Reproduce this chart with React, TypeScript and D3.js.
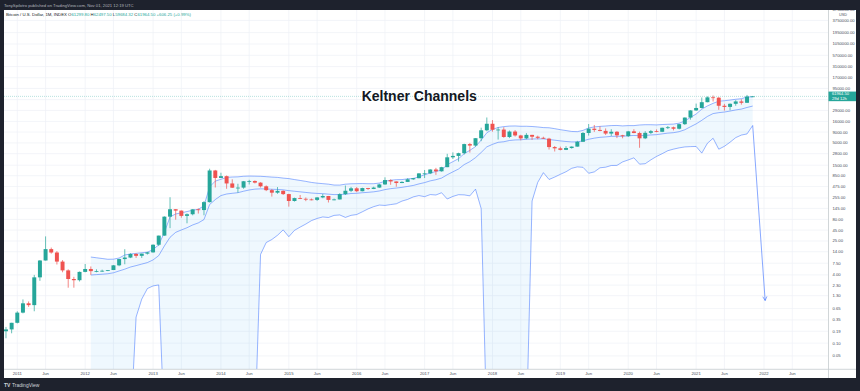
import React from 'react';
import * as d3 from 'd3';

// Monthly BTC/USD candles, first candle = July 2010
const FIRST_MONTH_OFFSET = -6; // July 2010 relative to Jan 2011
const opens = [0.05, 0.07, 0.06, 0.06, 0.19, 0.21,
  0.30, 0.52, 0.86, 0.78, 3.5, 8.7, 16.1, 13.4, 8.2, 5.1, 3.2, 3.0,
  4.7, 5.5, 4.9, 4.9, 5.0, 5.2, 6.7, 9.4, 10.2, 12.4, 11.2, 12.6,
  13.5, 20.4, 33.4, 93, 139, 129, 97, 106, 138, 133, 204, 1129,
  754, 830, 560, 445, 447, 630, 640, 585, 480, 390, 340, 375,
  315, 217, 254, 244, 236, 230, 263, 284, 230, 236, 314, 377,
  430, 368, 436, 416, 448, 531, 673, 624, 573, 608, 700, 744,
  964, 965, 1190, 1080, 1350, 2300, 2480, 2875, 4700, 4340, 6460, 9900,
  14100, 10200, 10300, 6900, 9250, 7500, 6400, 7730, 7000, 6600, 6300, 4000,
  3740, 3440, 3800, 4100, 5330, 8560, 10800, 10100, 9600, 8300, 9150, 7560,
  7200, 9350, 8540, 6420, 8630, 9450, 9140, 11350, 11650, 10780, 13800, 19700,
  28990, 33100, 45240, 58800, 57700, 37300, 35040, 41460, 47100, 43800, 61299.8];
const highs = [0.09, 0.07, 0.07, 0.20, 0.24, 0.30,
  0.56, 1.06, 0.95, 4.0, 8.9, 32, 17.5, 14.5, 8.9, 5.4, 3.6, 4.8,
  7.2, 6.3, 5.4, 5.3, 5.2, 6.8, 9.5, 16.0, 12.9, 12.8, 12.6, 13.9,
  20.8, 33.4, 95, 266, 140, 130, 111, 140, 145, 215, 1242, 1165,
  1000, 860, 700, 550, 640, 680, 660, 600, 505, 415, 460, 385,
  320, 260, 300, 262, 248, 267, 317, 285, 247, 330, 500, 465,
  460, 445, 440, 470, 550, 780, 700, 625, 630, 740, 755, 975,
  1160, 1210, 1300, 1375, 2780, 3000, 2950, 4800, 5000, 6470, 11400, 19800,
  17200, 11800, 11700, 9800, 9990, 7760, 8500, 7750, 7400, 7000, 6600, 4240,
  4100, 4200, 4150, 5600, 9000, 13900, 13200, 12300, 10950, 10500, 9500, 7750,
  9600, 10500, 9200, 9450, 10080, 10400, 11450, 12480, 12100, 14100, 19900, 29300,
  41950, 58350, 61800, 64900, 59500, 41300, 42400, 50500, 52900, 67000, 62497.5];
const lows = [0.05, 0.06, 0.06, 0.06, 0.13, 0.17,
  0.29, 0.50, 0.71, 0.56, 2.9, 8.7, 12.6, 7.0, 4.6, 2.0, 2.0, 2.8,
  4.6, 4.0, 4.6, 4.7, 4.9, 5.2, 6.4, 7.1, 9.9, 10.0, 10.0, 12.0,
  13.3, 19.0, 33.0, 50, 79, 88, 65, 100, 110, 100, 200, 450,
  750, 420, 440, 340, 420, 530, 560, 450, 370, 275, 320, 300,
  160, 210, 240, 215, 225, 218, 252, 200, 225, 236, 300, 350,
  350, 365, 395, 412, 440, 520, 520, 470, 570, 605, 680, 740,
  750, 930, 890, 1060, 1350, 2100, 1830, 2670, 2970, 4120, 5500, 9400,
  9200, 6000, 6600, 6500, 7050, 5780, 6100, 5880, 6100, 6200, 3500, 3150,
  3350, 3400, 3670, 4080, 5330, 7450, 9100, 9400, 7700, 7300, 6500, 6430,
  6900, 8450, 3850, 6150, 8100, 8900, 8990, 10600, 9850, 10400, 13200, 17600,
  28130, 32300, 45000, 47000, 30000, 28800, 29300, 37300, 39600, 43300, 59684.32];
const closes = [0.07, 0.06, 0.06, 0.19, 0.21, 0.30,
  0.52, 0.86, 0.78, 3.5, 8.7, 16.1, 13.4, 8.2, 5.1, 3.2, 3.0, 4.7,
  5.5, 4.9, 4.9, 5.0, 5.2, 6.7, 9.4, 10.2, 12.4, 11.2, 12.6, 13.5,
  20.4, 33.4, 93, 139, 129, 97, 106, 138, 133, 204, 1129, 754,
  830, 560, 445, 447, 630, 640, 585, 480, 390, 340, 375, 315,
  217, 254, 244, 236, 230, 263, 284, 230, 236, 314, 377, 430,
  368, 436, 416, 448, 531, 673, 624, 573, 608, 700, 744, 964,
  965, 1190, 1080, 1350, 2300, 2480, 2875, 4700, 4340, 6460, 9900, 14100,
  10200, 10300, 6900, 9250, 7500, 6400, 7730, 7000, 6600, 6300, 4000, 3740,
  3440, 3800, 4100, 5330, 8560, 10800, 10100, 9600, 8300, 9150, 7560, 7200,
  9350, 8540, 6420, 8630, 9450, 9140, 11350, 11650, 10780, 13800, 19700, 28990,
  33100, 45240, 58800, 57700, 37300, 35040, 41460, 47100, 43800, 61358.25, 61964.5];

// Keltner Channels settings (TradingView defaults)
const kcLength = 20;
const kcMult = 2;
const kcAtrLength = 10;

// Price axis ticks
const priceTicks = [6750000, 3750000, 1950000, 1050000, 570000, 310000, 170000, 95000, 52000, 29000, 16000,
  9000, 5000, 2800, 1500, 850, 475, 255, 145, 80, 45, 25, 14, 7.5, 4, 2.3, 1.3, 0.65, 0.35, 0.19, 0.1, 0.05];
const hiddenPriceLabels = [52000];

// Time axis ticks (month index from Jan 2011)
const timeTickMonths = [0, 5, 12, 17, 24, 29, 36, 41, 48, 53, 60, 65, 72, 77, 84, 89, 96, 101, 108, 113, 120, 125, 132, 137];
const timeTickLabels = ['2011', 'Jun', '2012', 'Jun', '2013', 'Jun', '2014', 'Jun', '2015', 'Jun', '2016', 'Jun',
  '2017', 'Jun', '2018', 'Jun', '2019', 'Jun', '2020', 'Jun', '2021', 'Jun', '2022', 'Jun'];

// Author's arrow annotation end point (month index, price)
const arrowEnd = [132.2, 1.0];

const titleText = 'Keltner Channels';
const symbolText = 'Bitcoin / U.S. Dollar, 1M, INDEX';
const publishText = 'TonySpilotro published on TradingView.com, Nov 01, 2021 12:19 UTC';
const countdownText = '29d 12h';

const UP = '#26a69a';
const DOWN = '#ef5350';
const KC = '#2962ff';
const FONT = "'Liberation Sans', Arial, sans-serif";

function computeKC() {
  const n = closes.length;
  const ema: (number | null)[] = new Array(n).fill(null);
  const alpha = 2 / (kcLength + 1);
  let s = 0;
  for (let k = 0; k < kcLength; k++) s += closes[k];
  ema[kcLength - 1] = s / kcLength;
  for (let k = kcLength; k < n; k++) ema[k] = alpha * closes[k] + (1 - alpha) * (ema[k - 1] as number);
  const tr = closes.map((_, k) => k === 0 ? highs[k] - lows[k] :
    Math.max(highs[k] - lows[k], Math.abs(highs[k] - closes[k - 1]), Math.abs(lows[k] - closes[k - 1])));
  const atr: (number | null)[] = new Array(n).fill(null);
  let t = 0;
  for (let k = 0; k < kcAtrLength; k++) t += tr[k];
  atr[kcAtrLength - 1] = t / kcAtrLength;
  for (let k = kcAtrLength; k < n; k++) atr[k] = ((atr[k - 1] as number) * (kcAtrLength - 1) + tr[k]) / kcAtrLength;
  const rows = [];
  for (let k = 0; k < n; k++) {
    if (ema[k] == null || atr[k] == null) continue;
    const m = ema[k] as number, a = atr[k] as number;
    rows.push({ i: k + FIRST_MONTH_OFFSET, basis: m, upper: m + kcMult * a, lower: m - kcMult * a });
  }
  return rows;
}

function fmt(v: number) { return v.toFixed(2); }

export default function App() {
  const W = 860, H = 391;
  const left = 4, right = 828.5, top = 10, bottom = 369;
  const x = d3.scaleLinear().domain([-2.35, 143.4]).range([left, right]);
  const y = d3.scaleLog().domain([0.0247, 6.6e6]).range([bottom, top]);
  const step = x(1) - x(0);
  const bodyW = step * 0.7;
  const kc = computeKC();
  const clampLow = (v: number) => Math.max(v, 1e-3);

  const lineU = d3.line<any>().x(d => x(d.i)).y(d => y(d.upper))(kc) || '';
  const lineM = d3.line<any>().x(d => x(d.i)).y(d => y(d.basis))(kc) || '';
  const lineL = d3.line<any>().x(d => x(d.i)).y(d => y(clampLow(d.lower)))(kc) || '';
  const area = d3.area<any>().x(d => x(d.i)).y0(d => y(d.upper)).y1(d => y(clampLow(d.lower)))(kc) || '';

  const last = kc[kc.length - 1];
  const ax0 = x(last.i), ay0 = y(clampLow(last.lower));
  const ax1 = x(arrowEnd[0]), ay1 = y(arrowEnd[1]);
  const ang = Math.atan2(ay1 - ay0, ax1 - ax0);
  const hl = 4.5, ha = Math.PI / 6.5;
  const head = `M${ax1 - hl * Math.cos(ang - ha)},${ay1 - hl * Math.sin(ang - ha)}L${ax1},${ay1}L${ax1 - hl * Math.cos(ang + ha)},${ay1 - hl * Math.sin(ang + ha)}`;

  const n = closes.length;
  const lastClose = closes[n - 1];
  const chg = closes[n - 1] - closes[n - 2];
  const chgPct = chg / closes[n - 2] * 100;
  const yLast = y(lastClose);

  return (
    <div style={{ position: 'absolute', left: 0, top: 0 }}>
      <svg width={W} height={H} style={{ display: 'block' }} fontFamily={FONT}>
        <defs>
          <clipPath id="plot"><rect x={left} y={top} width={right - left} height={bottom - top} /></clipPath>
        </defs>
        <rect x={0} y={0} width={W} height={H} fill="#1e222d" />
        <rect x={left} y={top} width={856 - left} height={378 - top} fill="#ffffff" />
        <g clipPath="url(#plot)">
          {priceTicks.map(v => (
            <line key={'g' + v} x1={left} x2={right} y1={y(v)} y2={y(v)} stroke="#eef1f6" strokeWidth={0.7} />
          ))}
          {timeTickMonths.map(m => (
            <line key={'v' + m} x1={x(m)} x2={x(m)} y1={top} y2={bottom} stroke="#eef1f6" strokeWidth={0.7} />
          ))}
          <path d={area} fill="rgba(33,150,243,0.07)" />
          <path d={lineU} fill="none" stroke={KC} strokeOpacity={0.6} strokeWidth={0.8} />
          <path d={lineM} fill="none" stroke={KC} strokeOpacity={0.6} strokeWidth={0.8} />
          <path d={lineL} fill="none" stroke={KC} strokeOpacity={0.6} strokeWidth={0.8} />
          {closes.map((c, k) => {
            const i = k + FIRST_MONTH_OFFSET;
            const o = opens[k];
            const col = c >= o ? UP : DOWN;
            const yt = y(Math.max(o, c)), yb = y(Math.min(o, c));
            return (
              <g key={'c' + k}>
                <line x1={x(i)} x2={x(i)} y1={y(highs[k])} y2={y(lows[k])} stroke={col} strokeWidth={0.7} />
                <rect x={x(i) - bodyW / 2} y={yt} width={bodyW} height={Math.max(0.8, yb - yt)} fill={col} />
              </g>
            );
          })}
          <line x1={left} x2={right} y1={yLast} y2={yLast} stroke={UP} strokeOpacity={0.55} strokeWidth={0.6} strokeDasharray="1,1" />
          <path d={`M${ax0},${ay0}L${ax1},${ay1}`} fill="none" stroke={KC} strokeOpacity={0.7} strokeWidth={0.8} />
          <path d={head} fill="none" stroke={KC} strokeOpacity={0.7} strokeWidth={0.8} />
        </g>
        <text x={(left + right) / 2 + 3} y={101} textAnchor="middle" fontSize={14} fontWeight="bold" fill="#131722">{titleText}</text>
        <text x={6} y={15.8} fontSize={4.3} fill="#131722">
          {symbolText + '  '}
          <tspan>O</tspan><tspan fill={UP}>{fmt(opens[n - 1]) + ' '}</tspan>
          <tspan>H</tspan><tspan fill={UP}>{fmt(highs[n - 1]) + ' '}</tspan>
          <tspan>L</tspan><tspan fill={UP}>{fmt(lows[n - 1]) + ' '}</tspan>
          <tspan>C</tspan><tspan fill={UP}>{fmt(lastClose) + ' '}</tspan>
          <tspan fill={UP}>{`+${fmt(chg)} (+${chgPct.toFixed(2)}%)`}</tspan>
        </text>
        <line x1={right} x2={right} y1={top} y2={378} stroke="#c5cbce" strokeWidth={0.8} />
        <line x1={left} x2={856} y1={bottom + 0.3} y2={bottom + 0.3} stroke="#c5cbce" strokeWidth={0.8} />
        {priceTicks.filter(v => !hiddenPriceLabels.includes(v)).map(v => (
          <text key={'p' + v} x={832.5} y={y(v)} dy="0.35em" fontSize={4.2} fill="#4a4f5c">{fmt(v)}</text>
        ))}
        <text x={843} y={15.6} textAnchor="middle" fontSize={3.8} fill="#4a4f5c">USD</text>
        <rect x={right} y={yLast - 4.8} width={856 - right} height={9.6} fill={UP} />
        <text x={832} y={yLast - 1.1} fontSize={4.1} fill="#ffffff">{fmt(lastClose)}</text>
        <text x={832} y={yLast + 3.4} fontSize={4.1} fill="#ffffff">{countdownText}</text>
        {timeTickMonths.map((m, j) => (
          <text key={'t' + m} x={x(m)} y={375.3} textAnchor="middle" fontSize={4.2} fill="#4a4f5c">{timeTickLabels[j]}</text>
        ))}
        <rect x={0} y={0} width={W} height={top} fill="#1e222d" />
        <text x={4} y={6.6} fontSize={4.2} fill="#b2b5be">{publishText}</text>
        <text x={4} y={387} fontSize={5} fill="#d1d4dc">
          <tspan fontWeight="bold">TV</tspan><tspan dx={1.5}>TradingView</tspan>
        </text>
      </svg>
    </div>
  );
}
